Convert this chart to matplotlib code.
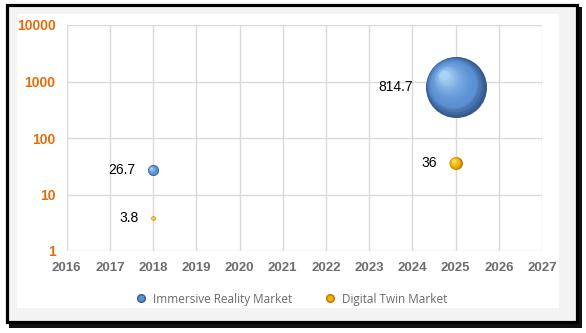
import matplotlib.pyplot as plt
import matplotlib.colors as mcolors
import matplotlib.transforms as mtransforms
from matplotlib.lines import Line2D
from matplotlib.patches import Rectangle
import numpy as np

# data
years_ir = [2018, 2025]
values_ir = [26.7, 814.7]
years_dt = [2018, 2025]
values_dt = [3.8, 36]
series_names = ["Immersive Reality Market", "Digital Twin Market"]
x_ticks = list(range(2016, 2028))
y_ticks = [1, 10, 100, 1000, 10000]

SIZE_SCALE = 2.37  # points^2 per unit value (bubble area ~ value)

fig = plt.figure(figsize=(5.86, 3.33), dpi=100)
fig.patch.set_facecolor("white")

W, H = 586.0, 333.0


def px_rect(x0, y0, x1, y1, **kw):
    return Rectangle((x0 / W, 1 - y1 / H), (x1 - x0) / W, (y1 - y0) / H,
                     transform=fig.transFigure, **kw)


# shadow + frame + white panel
fig.patches.append(px_rect(9, 7, 582, 328, facecolor="#111111", edgecolor="none", zorder=0))
fig.patches.append(px_rect(7, 4.5, 577, 322, facecolor="#f3f3f3", edgecolor="black",
                           linewidth=2.3, zorder=1))
fig.patches.append(px_rect(17, 14, 559, 308, facecolor="white", edgecolor="none", zorder=2))

ax = fig.add_axes([66.7 / W, 1 - 251 / H, (542 - 66.7) / W, (251 - 25) / H])
ax.set_zorder(3)
ax.patch.set_alpha(0)
ax.set_yscale("log")
ax.set_xlim(2016, 2027)
ax.set_ylim(1, 10000)
ax.set_xticks(x_ticks)
ax.set_yticks(y_ticks)
ax.set_yticklabels([str(v) for v in y_ticks])
ax.minorticks_off()
ax.grid(True, color="#d9d9d9", linewidth=1)
for s in ax.spines.values():
    s.set_visible(False)
ax.tick_params(length=0, pad=8)
for lab in ax.get_yticklabels():
    lab.set_color("#e46c0a")
    lab.set_fontweight("bold")
    lab.set_fontsize(10)
    lab.set_fontfamily("Liberation Sans")
for lab in ax.get_xticklabels():
    lab.set_color("#6d6d6d")
    lab.set_fontweight("bold")
    lab.set_fontsize(9.5)
    lab.set_fontfamily("Liberation Sans")
ax.set_axisbelow(True)


def sphere(x, y, s, edge, base, light):
    # layered circles shifted to the upper left give a shaded ball
    d = np.sqrt(s)
    c_edge = np.array(mcolors.to_rgb(edge))
    c_base = np.array(mcolors.to_rgb(base))
    c_light = np.array(mcolors.to_rgb(light))
    steps = 16
    for i in range(steps):
        f = 1 - i / steps * 0.9
        if i == 0:
            col = c_edge
        elif i < 4:
            t = i / 4
            col = c_edge * (1 - t) + c_base * t
        else:
            t = ((i - 4) / (steps - 5)) ** 1.6
            col = c_base * (1 - t) + c_light * t
        off = (1 - f) * d * 0.22
        tr = ax.transData + mtransforms.ScaledTranslation(-off / 72, off / 72, fig.dpi_scale_trans)
        ax.plot([x], [y], "o", markersize=d * f, color=col, markeredgewidth=0,
                transform=tr, zorder=5, clip_on=False)


def label(x, y, v, s):
    r = np.sqrt(s) / 2
    ax.annotate(f"{v:g}", (x, y), xytext=(-(r + 9), 0), textcoords="offset points",
                ha="right", va="center", fontsize=10, fontfamily="Liberation Sans",
                color="black", zorder=6)


for x, v in zip(years_ir, values_ir):
    s = v * SIZE_SCALE
    sphere(x, v, s, "#35598c", "#5a90d4", "#a8d2f6")
    label(x, v, v, s)
for x, v in zip(years_dt, values_dt):
    s = v * SIZE_SCALE
    sphere(x, v, s, "#b87a00", "#f0b000", "#ffe680")
    label(x, v, v, s)

handles = [
    Line2D([], [], marker="o", linestyle="none", markersize=5.5,
           markerfacecolor="#5a90d4", markeredgecolor="#35598c"),
    Line2D([], [], marker="o", linestyle="none", markersize=5.5,
           markerfacecolor="#f0b000", markeredgecolor="#b87a00"),
]
leg = fig.legend(handles, series_names, loc="center", bbox_to_anchor=(288 / W, 1 - 299 / H),
                 ncol=2, frameon=False, handletextpad=0.0, columnspacing=2.2,
                 prop={"family": "Open Sans", "size": 8.5})
for t in leg.get_texts():
    t.set_color("#6a6a6a")
leg.set_zorder(4)

fig.savefig("out.png", dpi=100)
